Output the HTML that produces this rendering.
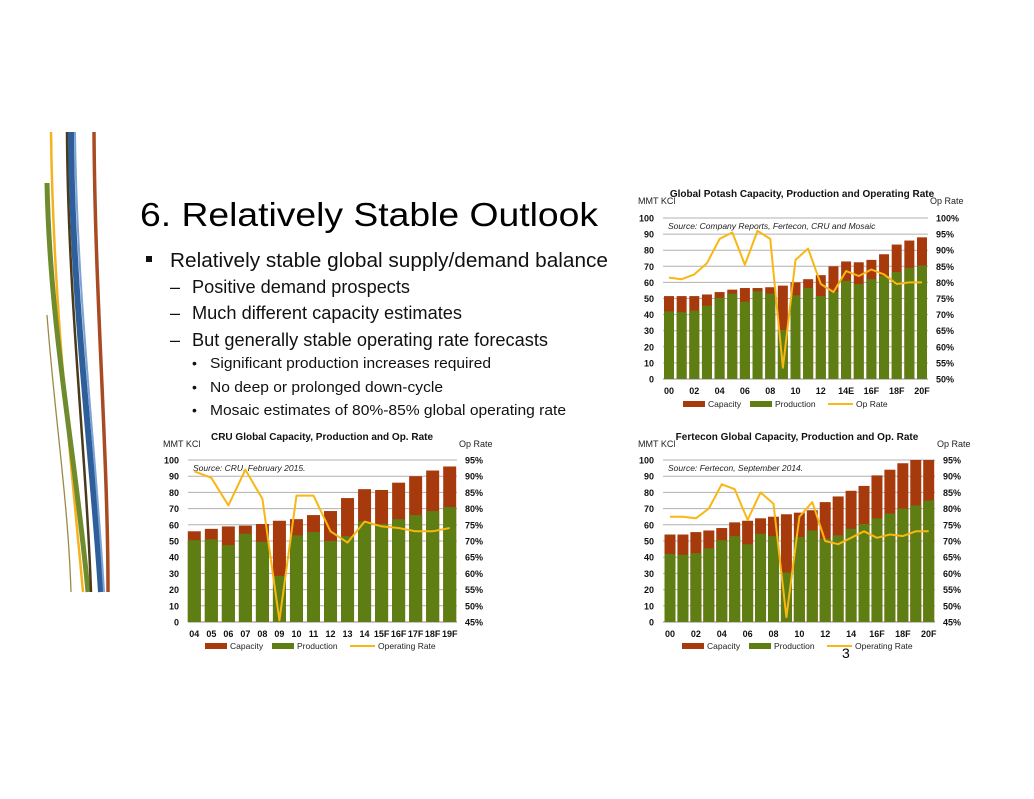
<!DOCTYPE html>
<html><head><meta charset="utf-8"><style>
html,body{margin:0;padding:0;background:#fff;}
svg{display:block;font-family:"Liberation Sans",Arial,sans-serif;}
</style></head><body>
<svg id="root" width="1034" height="799" viewBox="0 0 1034 799" xmlns="http://www.w3.org/2000/svg">
<g fill="none">
  <path d="M51,132 C53,300 70,450 83,592" stroke="#f5b21c" stroke-width="2.5"/>
  <path d="M47,183 C50,330 75,450 88,592" stroke="#6e8c2e" stroke-width="5"/>
  <path d="M47,315 C55,420 68,500 71,592" stroke="#9a8a45" stroke-width="1.3"/>
  <path d="M67,132 C68,300 86,450 91,592" stroke="#4a3a1a" stroke-width="2.5"/>
  <path d="M71,132 C72,300 92,450 101,592" stroke="#2e5f9a" stroke-width="6"/>
  <path d="M75,132 C77,300 96,450 104,592" stroke="#7ea2d4" stroke-width="2"/>
  <path d="M94,132 C95,300 108,450 108,592" stroke="#a84a22" stroke-width="3.5"/>
</g>
<text x="140" y="226" font-size="33" textLength="458" lengthAdjust="spacingAndGlyphs">6.  Relatively Stable Outlook</text>
<g fill="#111">
  <rect x="146" y="256" width="6" height="6" fill="#111"/>
  <text x="170" y="267" font-size="20" textLength="438" lengthAdjust="spacingAndGlyphs">Relatively stable global supply/demand balance</text>
  <text x="170" y="293" font-size="18">–</text>
  <text x="192" y="293" font-size="18" textLength="218" lengthAdjust="spacingAndGlyphs">Positive demand prospects</text>
  <text x="170" y="319" font-size="18">–</text>
  <text x="192" y="319" font-size="18" textLength="270" lengthAdjust="spacingAndGlyphs">Much different capacity estimates</text>
  <text x="170" y="346" font-size="18">–</text>
  <text x="192" y="346" font-size="18" textLength="356" lengthAdjust="spacingAndGlyphs">But generally stable operating rate forecasts</text>
  <text x="192" y="368" font-size="14">•</text>
  <text x="210" y="368" font-size="15" textLength="281" lengthAdjust="spacingAndGlyphs">Significant production increases required</text>
  <text x="192" y="392" font-size="14">•</text>
  <text x="210" y="392" font-size="15" textLength="233" lengthAdjust="spacingAndGlyphs">No deep or prolonged down-cycle</text>
  <text x="192" y="415" font-size="14">•</text>
  <text x="210" y="415" font-size="15" textLength="356" lengthAdjust="spacingAndGlyphs">Mosaic estimates of 80%-85% global operating rate</text>
</g>
<text x="842" y="658" font-size="14">3</text>
</svg>
<script>
// Chart 1: Global Potash
const potashYears = ["00","01","02","03","04","05","06","07","08","09","10","11","12","13","14E","15","16F","17","18F","19","20F"];
const potashCapacity = [51.5,51.5,51.5,52.5,54,55.5,56.5,56.5,57,58,60,62,64.5,70,73,72.5,74,77.5,83.5,86,88];
const potashProduction = [42,41.5,42.5,45.5,50.5,53,48,54.5,53,30.5,52,56.5,51.5,54,61,59,62,64,66.5,69,70.5];
const potashOpRate = [81.5,81,82.5,86,93.5,95.5,85.5,96,93.5,53.5,87,90.5,79.5,77,83.5,82,84,82.5,79.5,80,80];
const potashLeftTicks = [0,10,20,30,40,50,60,70,80,90,100];
const potashRightTicks = ["50%","55%","60%","65%","70%","75%","80%","85%","90%","95%","100%"];
// Chart 2: CRU
const cruYears = ["04","05","06","07","08","09","10","11","12","13","14","15F","16F","17F","18F","19F"];
const cruCapacity = [56,57.5,59,59.5,60.5,62.5,63.5,66,68.5,76.5,82,81.5,86,90,93.5,96];
const cruProduction = [50.5,51,47.5,54.5,49.5,28.5,53.5,55.5,50,53,62,60.5,63.5,66,68.5,71];
const cruOpRate = [91.5,89.5,81,92,83,45.5,84,84,73,69.5,76,74.5,74,73,73,74];
const cruRightTicks = ["45%","50%","55%","60%","65%","70%","75%","80%","85%","90%","95%"];
// Chart 3: Fertecon
const fertYears = ["00","01","02","03","04","05","06","07","08","09","10","11","12","13","14","15","16F","17","18F","19","20F"];
const fertCapacity = [54,54,55.5,56.5,58,61.5,62.5,64,65,66.5,67.5,69,74,77.5,81,84,90.5,94,98,100,100];
const fertProduction = [42,41.5,42.5,45.5,50.5,53,48,54.5,53,30.5,52.5,56.5,51.5,53.5,57.5,60.5,64,67,70,72,75];
const fertOpRate = [77.5,77.5,77,80,87.5,86,76.5,85,81.5,46.5,77.5,82,70,69,71,73,71,72,71.5,73,73];

const NS="http://www.w3.org/2000/svg";
const root=document.getElementById('root');
function mk(tag,attrs,parent,txt){const e=document.createElementNS(NS,tag);for(const k in attrs)e.setAttribute(k,attrs[k]);if(txt!==undefined)e.textContent=txt;parent.appendChild(e);return e;}

function drawChart(cfg){
  const g=mk('g',{},root);
  
  
  const n=cfg.cats.length;
  const yL=v=>cfg.y0-(v/100)*(cfg.y0-cfg.y100);
  const yR=v=>cfg.y0-(v-cfg.rMin)/(cfg.rMax-cfg.rMin)*(cfg.y0-cfg.y100);
  const xC=i=>cfg.xFirst+i*(cfg.xLast-cfg.xFirst)/(n-1);
  const tl=mk('text',{x:cfg.titleX,y:cfg.titleY,'font-size':10,'font-weight':'bold','text-anchor':'middle',fill:'#111'},g,cfg.title);
  
  
  const ul=mk('text',{x:cfg.left-25,y:cfg.titleY+7,'font-size':9,fill:'#222'},g,'MMT KCl');
  
  
  const ur=mk('text',{x:cfg.right+2,y:cfg.titleY+7,'font-size':9,fill:'#222'},g,'Op Rate');
  
  
  for(let k=0;k<=10;k++){
    const v=k*10,y=yL(v);
    const gl=mk('line',{x1:cfg.left,x2:cfg.right,y1:y,y2:y,stroke:k===0?'#888':'#b0b0b0','stroke-width':1},g);
    
    
    const lt=mk('text',{x:cfg.left-9,y:y+3.5,'font-size':9,'font-weight':'bold','text-anchor':'end',fill:'#111'},g,String(potashLeftTicks[k]));
    
    
    const rt=mk('text',{x:cfg.right+8,y:y+3.5,'font-size':9,'font-weight':'bold',fill:'#111'},g,cfg.rTicks[k]);
    
    
  }
  const src=mk('text',{x:cfg.left+5,y:yL(95)+3,'font-size':8.5,'font-style':'italic',fill:'#222'},g,cfg.source);
  
  
  for(let i=0;i<n;i++){
    const x=xC(i)-cfg.bw/2;
    const c=mk('rect',{x:x,y:yL(cfg.cap[i]),width:cfg.bw,height:yL(0)-yL(cfg.cap[i]),fill:'#a63a0c'},g);
    
    
    const p=mk('rect',{x:x,y:yL(cfg.prod[i]),width:cfg.bw,height:yL(0)-yL(cfg.prod[i]),fill:'#5e7d12'},g);
    
    
    if(cfg.labelIdx(i)){
      const xl=mk('text',{x:xC(i),y:cfg.y0+15,'font-size':9,'font-weight':'bold','text-anchor':'middle',fill:'#111'},g,cfg.cats[i]);
      
      
    }
  }
  const pts=cfg.rate.map((v,i)=>xC(i).toFixed(1)+','+yR(v).toFixed(1)).join(' ');
  const ln=mk('polyline',{points:pts,fill:'none',stroke:'#f8b712','stroke-width':2,'stroke-linejoin':'round'},g);
  
  
  const ly=cfg.legendY, lx=cfg.legendX;
  const l1=mk('rect',{x:lx,y:ly-4,width:22,height:6,fill:'#a63a0c'},g);
  
  
  mk('text',{x:lx+25,y:ly+2,'font-size':8.5,fill:'#222'},g,'Capacity');
  const l2=mk('rect',{x:lx+67,y:ly-4,width:22,height:6,fill:'#5e7d12'},g);
  
  
  mk('text',{x:lx+92,y:ly+2,'font-size':8.5,fill:'#222'},g,'Production');
  const l3=mk('line',{x1:lx+145,x2:lx+170,y1:ly-1,y2:ly-1,stroke:'#f8b712','stroke-width':2},g);
  
  
  mk('text',{x:lx+173,y:ly+2,'font-size':8.5,fill:'#222'},g,cfg.rateLabel);
}

drawChart({name:'potash-chart',cats:potashYears,cap:potashCapacity,prod:potashProduction,rate:potashOpRate,rTicks:potashRightTicks,rMin:50,rMax:100,
  y0:379,y100:218,xFirst:669,xLast:922,bw:10,left:663,right:928,title:'Global  Potash  Capacity,  Production  and Operating  Rate',titleX:802,titleY:197,
  source:'Source: Company Reports, Fertecon, CRU and Mosaic',legendX:683,legendY:405,rateLabel:'Op Rate',labelIdx:i=>i%2===0});
drawChart({name:'cru-chart',cats:cruYears,cap:cruCapacity,prod:cruProduction,rate:cruOpRate,rTicks:cruRightTicks,rMin:45,rMax:95,
  y0:622,y100:460,xFirst:194.3,xLast:449.7,bw:13,left:188,right:457,title:'CRU  Global  Capacity,  Production  and  Op.  Rate',titleX:322,titleY:440,
  source:'Source:   CRU, February 2015.',legendX:205,legendY:647,rateLabel:'Operating Rate',labelIdx:i=>true});
drawChart({name:'fertecon-chart',cats:fertYears,cap:fertCapacity,prod:fertProduction,rate:fertOpRate,rTicks:cruRightTicks,rMin:45,rMax:95,
  y0:622,y100:460,xFirst:670,xLast:928.7,bw:11,left:663,right:935,title:'Fertecon  Global  Capacity,  Production  and  Op.  Rate',titleX:797,titleY:440,
  source:'Source:   Fertecon, September 2014.',legendX:682,legendY:647,rateLabel:'Operating Rate',labelIdx:i=>i%2===0});
</script>
</body></html>
